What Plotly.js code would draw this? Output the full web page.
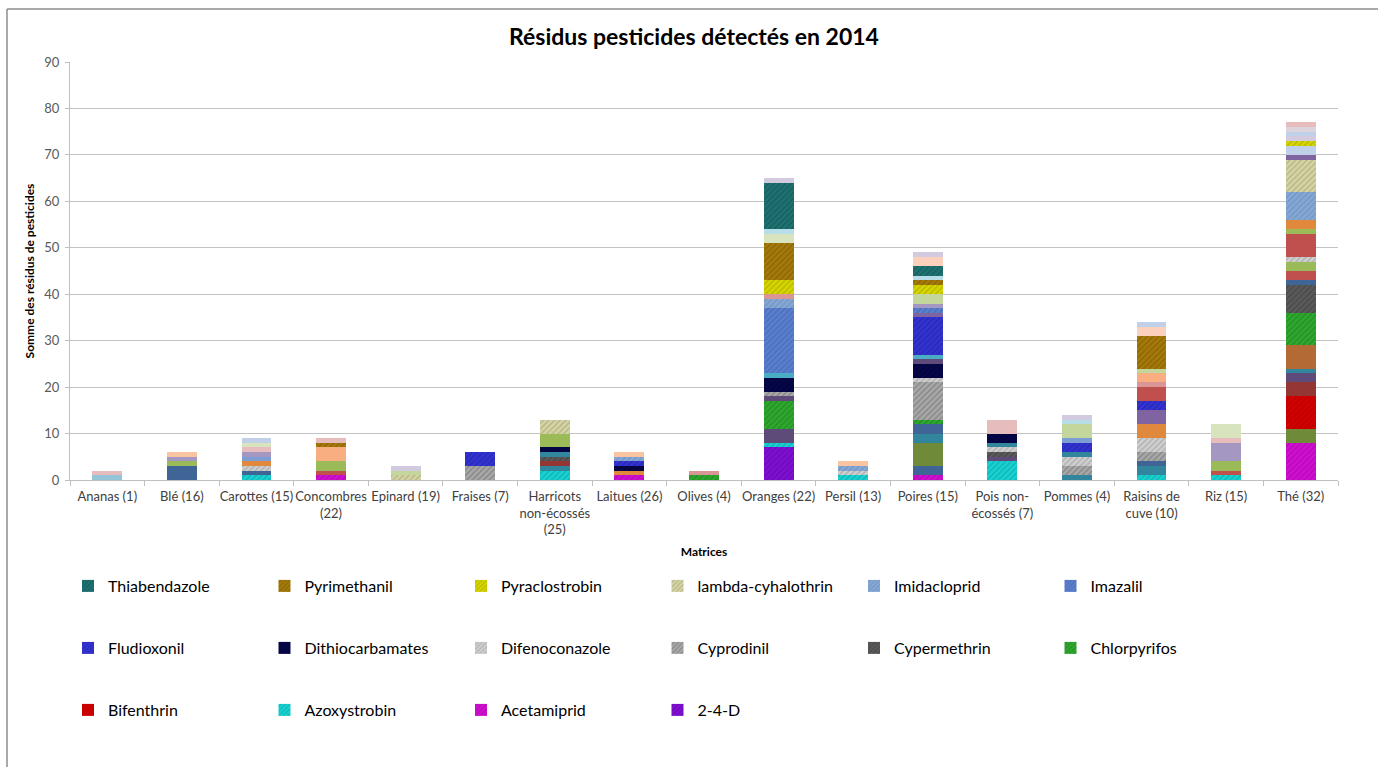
<!DOCTYPE html>
<html><head><meta charset="utf-8">
<script src="https://cdn.plot.ly/plotly-3.0.1.min.js"></script>
<style>html,body{margin:0;padding:0;background:#fff}#chart{width:1378px;height:767px}</style>
</head><body><div id="chart"></div>
<script>
// ---------- DATA ----------
const categories = ["Ananas (1)", "Blé (16)", "Carottes (15)", "Concombres<br>(22)", "Epinard (19)", "Fraises (7)",
  "Harricots<br>non-écossés<br>(25)", "Laitues (26)", "Olives (4)", "Oranges (22)", "Persil (13)", "Poires (15)",
  "Pois non-<br>écossés (7)", "Pommes (4)", "Raisins de<br>cuve (10)", "Riz (15)", "Thé (32)"];

// stacks, bottom to top: [pesticide / unnamed series key, number of residues]
const ananas = [["u_skyblue",1],["u_pink",1]];
const ble = [["u_steel",3],["u_green",1],["u_lavender",1],["u_peach",1]];
const carottes = [["Azoxystrobin",1],["u_steel",1],["Difenoconazole",1],["u_orange",1],["u_blue",1],["u_lavender",1],["u_pink",1],["u_sage",1],["u_paleblue",1]];
const concombres = [["Acetamiprid",1],["u_red",1],["u_green",2],["u_peach2",3],["Pyrimethanil",1],["u_pink",1]];
const epinard = [["lambda-cyhalothrin",1],["u_lightgreen",1],["u_lightlav",1]];
const fraises = [["Cyprodinil",3],["Fludioxonil",3]];
const harricots = [["Azoxystrobin",2],["u_teal",1],["u_darkred",1],["Cypermethrin",1],["u_teal",1],["Dithiocarbamates",1],["u_green",3],["lambda-cyhalothrin",3]];
const laitues = [["Acetamiprid",1],["u_orange",1],["Dithiocarbamates",1],["Fludioxonil",1],["Imidacloprid",1],["u_peach",1]];
const olives = [["Chlorpyrifos",1],["u_pinkred",1]];
const oranges = [["2-4-D",7],["Azoxystrobin",1],["u_purplegrey",3],["Chlorpyrifos",6],["u_purplegrey",1],["Cyprodinil",1],["Dithiocarbamates",3],["u_aqua",1],["Imazalil",14],["Imidacloprid",2],["u_pinkred",1],["Pyraclostrobin",3],["Pyrimethanil",8],["u_sage",2],["u_lightblue",1],["Thiabendazole",10],["u_lightlav",1]];
const persil = [["Azoxystrobin",1],["Difenoconazole",1],["Imidacloprid",1],["u_peach",1]];
const poires = [["Acetamiprid",1],["u_steel",2],["u_olive",5],["u_teal",2],["u_steel",2],["Chlorpyrifos",1],["Cyprodinil",8],["Difenoconazole",1],["Dithiocarbamates",3],["u_purplegrey",1],["u_aqua",1],["Fludioxonil",8],["u_purple",1],["Imazalil",1],["u_lavender",1],["u_lightgreen",2],["Pyraclostrobin",2],["Pyrimethanil",1],["u_lightblue",1],["Thiabendazole",2],["u_peachlight",2],["u_lightlav",1]];
const pois = [["Azoxystrobin",4],["u_purplegrey",1],["Cypermethrin",1],["Difenoconazole",1],["u_teal",1],["Dithiocarbamates",2],["u_pink",3]];
const pommes = [["u_teal",1],["Cyprodinil",2],["Difenoconazole",2],["u_teal",1],["Fludioxonil",2],["u_blue",1],["u_lightgreen",3],["u_lightblue",1],["u_lightlav",1]];
const raisins = [["Azoxystrobin",1],["u_teal",2],["u_steel",1],["Cyprodinil",2],["Difenoconazole",3],["u_orange",3],["u_purple",3],["Fludioxonil",2],["u_red",3],["u_pinkred",1],["u_peach2",2],["u_lightgreen",1],["Pyrimethanil",7],["u_peachlight",2],["u_paleblue",1]];
const riz = [["Azoxystrobin",1],["u_red",1],["u_green",2],["u_lavender",4],["u_pink",1],["u_sage",3]];
const the = [["Acetamiprid",8],["u_olive",3],["Bifenthrin",7],["u_darkred",3],["u_purplegrey",2],["u_teal",1],["u_brown",5],["Chlorpyrifos",7],["Cypermethrin",6],["u_steel",1],["u_red",2],["u_green",2],["Difenoconazole",1],["u_red",5],["u_green",1],["u_orange",2],["Imidacloprid",6],["lambda-cyhalothrin",7],["u_purple",1],["u_paleblue",2],["Pyraclostrobin",1],["u_lightlav",1],["u_paleblue",1],["u_greypink",1],["u_pink",1]];

const stacks = [ananas, ble, carottes, concombres, epinard, fraises, harricots, laitues, olives, oranges, persil, poires, pois, pommes, raisins, riz, the];

const legendRow1 = ["Thiabendazole","Pyrimethanil","Pyraclostrobin","lambda-cyhalothrin","Imidacloprid","Imazalil"];
const legendRow2 = ["Fludioxonil","Dithiocarbamates","Difenoconazole","Cyprodinil","Cypermethrin","Chlorpyrifos"];
const legendRow3 = ["Bifenthrin","Azoxystrobin","Acetamiprid","2-4-D"];

// ---------- STYLES ----------
const labeledStyle = {
  "Thiabendazole": ["#1f7272", "#0d4545"],
  "Pyrimethanil": ["#a57a0a", "#6b4c00"],
  "Pyraclostrobin": ["#d6d600", "#8f8f00"],
  "lambda-cyhalothrin": ["#d4d4a6", "#8e8e5c"],
  "Imidacloprid": ["#86a8d4", "#5a7fb0"],
  "Imazalil": ["#5a7fcc", "#3a5aa4"],
  "Fludioxonil": ["#3333d0", "#1a1a9a"],
  "Dithiocarbamates": ["#06064a", "#000022"],
  "Difenoconazole": ["#cfcfcf", "#8a8a8a"],
  "Cyprodinil": ["#a8a8a8", "#5c5c5c"],
  "Cypermethrin": ["#5a5a5a", "#333333"],
  "Chlorpyrifos": ["#2ea82e", "#177017"],
  "Bifenthrin": ["#d40000", "#960000"],
  "Azoxystrobin": ["#19d2d2", "#089090"],
  "Acetamiprid": ["#d010d0", "#960096"],
  "2-4-D": ["#8010d0", "#5500a0"]
};
const unnamedColor = {
  u_skyblue: "#93c4d8", u_pink: "#e6bcbc", u_steel: "#3e6596", u_green: "#9bbb59", u_lavender: "#a497c2",
  u_peach: "#fac4a0", u_peach2: "#f9ae82", u_peachlight: "#fbd0bc", u_orange: "#e0883c", u_blue: "#7c9ed2",
  u_sage: "#d7e4bd", u_paleblue: "#c0d0e8", u_red: "#c0504d", u_lightgreen: "#c3d69b", u_lightlav: "#d2cbe0",
  u_teal: "#31859c", u_darkred: "#943634", u_pinkred: "#d99694", u_purplegrey: "#5f4b7a", u_aqua: "#4bacc6",
  u_olive: "#6f8a38", u_purple: "#8064a2", u_lightblue: "#b7dee8", u_brown: "#b46a34", u_greypink: "#ddd3dc"
};

const FONT = "Lato, 'Liberation Sans', Arial, sans-serif";

// ---------- TRACES ----------
const legendOrder = legendRow1.concat(legendRow2, legendRow3);
function legendOf(key) {
  if (legendRow1.includes(key)) return "legend";
  if (legendRow2.includes(key)) return "legend2";
  return "legend3";
}
const seen = {};
const traces = [];
stacks.forEach((stack, ci) => {
  stack.forEach(([key, val]) => {
    const st = labeledStyle[key];
    const t = {
      type: "bar", x: [categories[ci]], y: [val],
      name: st ? key : "autre",
      marker: { color: st ? st[0] : unnamedColor[key], line: { width: 0 } },
      showlegend: false, hoverinfo: "name+y"
    };
    if (st) {
      t.marker.pattern = { shape: "/", fgcolor: st[1], size: 4, solidity: 0.3, fillmode: "overlay" };
      t.legendgroup = key;
      t.legend = legendOf(key);
      t.legendrank = 100 + legendOrder.indexOf(key);
      if (!seen[key]) { seen[key] = true; t.showlegend = true; }
    }
    traces.push(t);
  });
});

// ---------- LAYOUT ----------
const L = 70, R = 1338, T = 62, B = 480;
const px2x = p => (p - L) / (R - L);
const px2y = p => (B - p) / (B - T);
const legBase = { orientation: "h", x: px2x(68), xanchor: "left", yanchor: "middle",
  entrywidth: 151.5, entrywidthmode: "pixels", font: { size: 16, color: "#000", family: FONT },
  bgcolor: "rgba(0,0,0,0)", itemclick: false, itemdoubleclick: false };

const layout = {
  width: 1378, height: 767,
  margin: { l: L, r: 1378 - R, t: T, b: 767 - B },
  paper_bgcolor: "#fff", plot_bgcolor: "#fff",
  barmode: "stack", bargap: 0.6,
  font: { family: FONT, color: "#404040" },
  title: { text: "Résidus pesticides détectés en 2014", font: { size: 23, family: FONT, color: "#000", weight: "bold" },
    x: px2x(694), xref: "paper", xanchor: "center", y: 1 - 37 / 767, yref: "container", yanchor: "middle" },
  xaxis: {
    type: "category", categoryorder: "array", categoryarray: categories,
    showline: true, linecolor: "#bfbfbf", linewidth: 1,
    ticks: "outside", tickson: "boundaries", ticklen: 5, tickcolor: "#bfbfbf", tickangle: 0,
    ticklabelstandoff: 4,
    tickfont: { size: 13, color: "#404040", family: FONT },
    title: { text: "<b>Matrices</b>", font: { size: 12, color: "#000", family: FONT }, standoff: 11 },
    fixedrange: true
  },
  yaxis: {
    range: [0, 90], dtick: 10, showgrid: true, gridcolor: "#c4c4c4", gridwidth: 1, zeroline: false,
    showline: true, linecolor: "#bfbfbf", ticks: "outside", ticklen: 4, tickcolor: "#bfbfbf",
    ticklabelstandoff: 3,
    tickfont: { size: 13, color: "#595959", family: FONT },
    title: { text: "<b>Somme des résidus de pesticides</b>", font: { size: 12, color: "#000", family: FONT }, standoff: 7 },
    fixedrange: true
  },
  legend: Object.assign({}, legBase, { y: px2y(586) }),
  legend2: Object.assign({}, legBase, { y: px2y(648) }),
  legend3: Object.assign({}, legBase, { y: px2y(710) }),
  shapes: [
    { type: "line", xref: "paper", yref: "paper", x0: px2x(7), x1: px2x(1378), y0: px2y(9), y1: px2y(9), line: { color: "#8c8c8c", width: 1.5 } },
    { type: "line", xref: "paper", yref: "paper", x0: px2x(7), x1: px2x(7), y0: px2y(9), y1: px2y(767), line: { color: "#8c8c8c", width: 1.5 } }
  ]
};

Plotly.newPlot("chart", traces, layout, { displayModeBar: false, staticPlot: false });
</script>
</body></html>
